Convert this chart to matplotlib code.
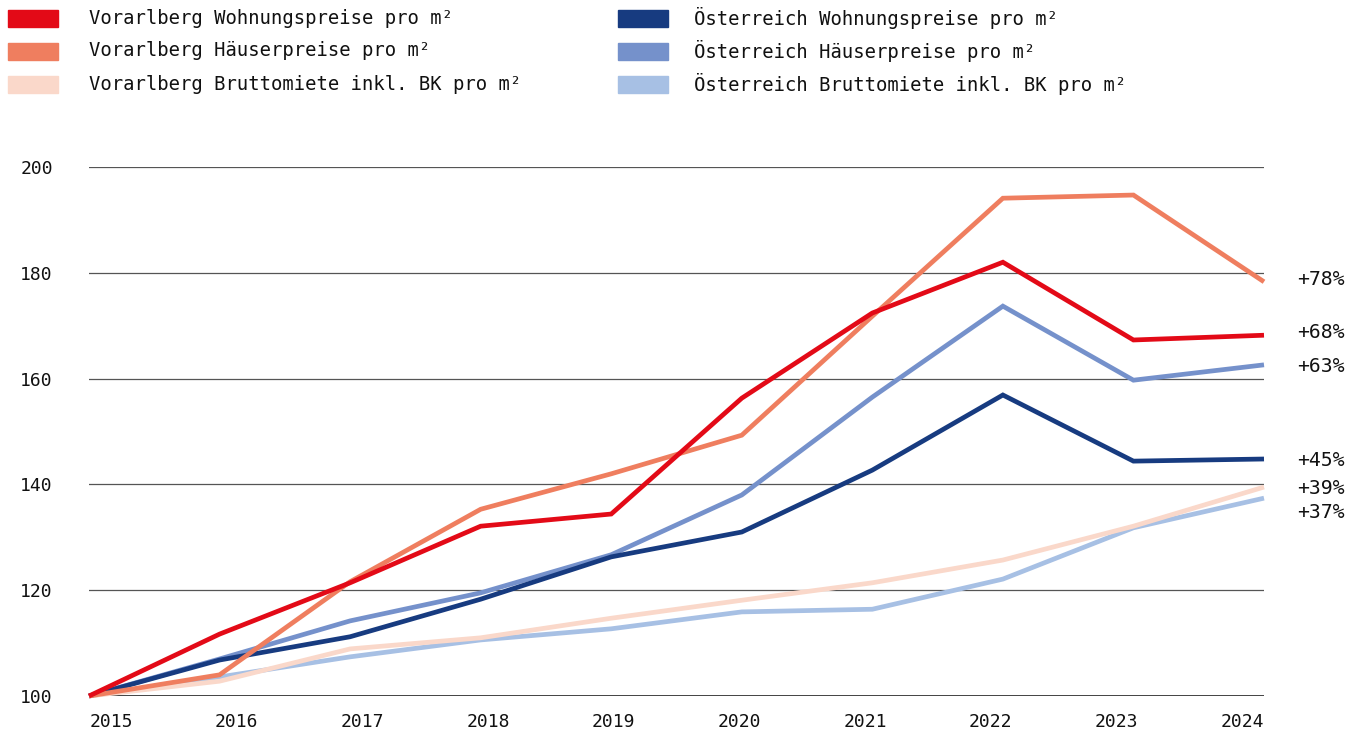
import matplotlib
matplotlib.use("Agg")
import matplotlib.pyplot as plt
import matplotlib.transforms as mtransforms
from matplotlib.patches import Rectangle

years = [2015, 2016, 2017, 2018, 2019, 2020, 2021, 2022, 2023, 2024]

vbg_wohnung = [100, 111.7, 121.4, 132.1, 134.4, 156.3, 172.4, 182.0, 167.3, 168.2]
vbg_haus = [100, 104.0, 121.6, 135.3, 142.0, 149.3, 171.8, 194.1, 194.7, 178.3]
vbg_miete = [100, 102.8, 108.9, 111.0, 114.7, 118.1, 121.4, 125.7, 132.1, 139.5]
at_wohnung = [100, 106.8, 111.2, 118.3, 126.3, 131.0, 142.7, 156.9, 144.4, 144.8]
at_haus = [100, 107.0, 114.2, 119.5, 126.7, 138.0, 156.5, 173.7, 159.7, 162.6]
at_miete = [100, 103.6, 107.4, 110.6, 112.7, 115.9, 116.4, 122.1, 131.8, 137.4]

end_labels = ["+68%", "+78%", "+39%", "+45%", "+63%", "+37%"]

names = [
    "Vorarlberg Wohnungspreise pro m²",
    "Vorarlberg Häuserpreise pro m²",
    "Vorarlberg Bruttomiete inkl. BK pro m²",
    "Österreich Wohnungspreise pro m²",
    "Österreich Häuserpreise pro m²",
    "Österreich Bruttomiete inkl. BK pro m²",
]
series = [vbg_wohnung, vbg_haus, vbg_miete, at_wohnung, at_haus, at_miete]
colors = ["#E30A17", "#EF7E5F", "#FAD8CA", "#173B80", "#7591CB", "#A7C0E4"]

# vertical nudges (data units) so the end labels don't collide
label_nudge = [0.6, 0.4, -0.2, -0.2, -0.3, -2.8]

plt.rcParams["font.family"] = ["DejaVu Sans Mono", "DejaVu Sans"]

fig = plt.figure(figsize=(13.65, 7.35), dpi=100)
ax = fig.add_axes([89 / 1365, 39 / 735, 1175 / 1365, 529 / 735])

# draw order: light lines underneath, strong ones on top
order = [5, 2, 4, 3, 1, 0]
for i in order:
    ax.plot(years, series[i], color=colors[i], lw=3.4, solid_capstyle="butt",
            solid_joinstyle="miter", clip_on=False, zorder=3 + order.index(i))

for v in [120, 140, 160, 180, 200]:
    ax.axhline(v, color="#555555", lw=0.9, zorder=1)
ax.axhline(100, color="#111111", lw=1.1, zorder=2)

ax.set_xlim(2015, 2024)
ax.set_ylim(100, 200)
for s in ax.spines.values():
    s.set_visible(False)

ax.set_yticks([100, 120, 140, 160, 180, 200])
ax.tick_params(axis="y", length=0, pad=26, labelsize=13, labelcolor="#111111")
ax.set_xticks(years)
ax.set_xticklabels([str(y) for y in years])
ax.tick_params(axis="x", length=0, pad=12, labelsize=13, labelcolor="#111111")

# spread the year labels so the first and last sit flush with the plot edges
half_w = 22 / 100  # inches, half the width of a 4-digit label
n = len(years) - 1
for i, lab in enumerate(ax.get_xticklabels()):
    dx = half_w * (1 - 2 * i / n)
    lab.set_transform(lab.get_transform() +
                      mtransforms.ScaledTranslation(dx, 0, fig.dpi_scale_trans))

# percentage labels at the right end
for i in range(len(series)):
    ax.annotate(end_labels[i], xy=(years[-1], series[i][-1] + label_nudge[i]),
                xytext=(24, 0), textcoords="offset points", va="center",
                ha="left", fontsize=14.2, color="#111111", annotation_clip=False)

# legend in two columns
W, H = 1365, 735
for i, name in enumerate(names):
    col, row = divmod(i, 3)
    x0 = [8, 618][col]
    xt = [89, 694][col]
    yc = 18 + row * 33
    fig.patches.append(Rectangle((x0 / W, 1 - (yc + 8.5) / H), 50 / W, 17 / H,
                                 transform=fig.transFigure, color=colors[i]))
    fig.text(xt / W, 1 - yc / H, name, fontsize=13.6, va="center", ha="left",
             color="#111111")

fig.savefig("out.png", dpi=100)
